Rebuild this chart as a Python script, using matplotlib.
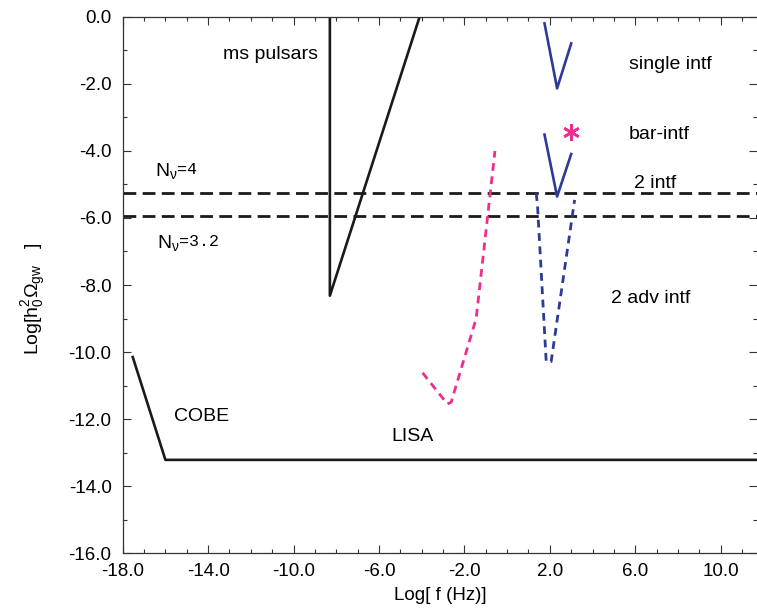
import matplotlib
matplotlib.use("Agg")
import matplotlib.pyplot as plt
from matplotlib.ticker import MultipleLocator, FormatStrFormatter

plt.rcParams['font.family'] = ['Liberation Sans', 'DejaVu Sans']
plt.rcParams['mathtext.fontset'] = 'custom'
plt.rcParams['mathtext.rm'] = 'Liberation Sans'
plt.rcParams['mathtext.it'] = 'Liberation Sans'
plt.rcParams['mathtext.bf'] = 'Liberation Sans'

# curves (x = log f, y = log h0^2 Omega_gw)
pulsar_x = [-8.3, -8.3, -4.1]
pulsar_y = [0.0, -8.32, 0.0]

cobe_lisa_x = [-17.53, -16.0, 12.0]
cobe_lisa_y = [-10.15, -13.22, -13.22]

nnu_levels = [-5.25, -5.95]

lisa_x = [-3.96, -2.8, -2.62, -1.45, -0.57]
lisa_y = [-10.62, -11.55, -11.5, -9.0, -4.0]

single_x = [1.75, 2.34, 3.0]
single_y = [-0.19, -2.13, -0.79]

bar_x = [1.75, 2.34, 3.0]
bar_y = [-3.51, -5.36, -4.09]

star_x = [3.01]
star_y = [-3.44]

adv_x = [1.36, 1.42, 1.83, 2.06, 3.16]
adv_y = [-5.26, -5.6, -10.29, -10.29, -5.46]

xticks = [-18, -14, -10, -6, -2, 2, 6, 10]

fig = plt.figure(figsize=(7.57, 6.11), dpi=100)
ax = fig.add_axes([0.1621, 0.0949, 0.8379, 0.8773])

black = '#1a1a1a'
pink = '#ec2f8e'
blue = '#2e3a94'

ax.plot(pulsar_x, pulsar_y, color=black, lw=1.9)
ax.plot(cobe_lisa_x, cobe_lisa_y, color=black, lw=1.9)
for lev in nnu_levels:
    ax.plot([-18, 12], [lev, lev], color=black, lw=2.0, dashes=[4.6, 2.3])

ax.plot(lisa_x, lisa_y, color=pink, lw=2.0, dashes=[2.8, 2.0])
ax.plot(adv_x, adv_y, color=blue, lw=2.0, dashes=[2.8, 2.0])
ax.plot(single_x, single_y, color=blue, lw=1.9)
ax.plot(bar_x, bar_y, color=blue, lw=1.9)
ax.plot(star_x, star_y, ls='none', marker=(6, 2, 0), ms=12, mew=1.9, color=pink)

# labels
fs = 14
ax.text(-11.08, -1.13, 'ms pulsars', fontsize=fs, ha='center', va='center')
ax.text(5.71, -1.43, 'single intf', fontsize=fs, ha='left', va='center')
ax.text(5.71, -3.52, 'bar-intf', fontsize=fs, ha='left', va='center')
ax.text(5.96, -4.96, '2 intf', fontsize=fs, ha='left', va='center')
ax.text(4.88, -8.39, '2 adv intf', fontsize=fs, ha='left', va='center')
ax.text(-14.29, -11.93, 'COBE', fontsize=fs, ha='center', va='center')
ax.text(-4.43, -12.53, 'LISA', fontsize=fs, ha='center', va='center')

ax.text(-16.48, -4.59, r'N$_{\nu}$', fontsize=fs, ha='left', va='center')
ax.text(-15.45, -4.55, '=4', fontsize=12, family='Liberation Mono', ha='left', va='center')
ax.text(-16.4, -6.74, r'N$_{\nu}$', fontsize=fs, ha='left', va='center')
ax.text(-15.37, -6.70, '=3.2', fontsize=12, family='Liberation Mono', ha='left', va='center')

ax.set_xlim(-18, 11.7)
ax.set_ylim(-16, 0)
ax.set_xticks(xticks)
ax.xaxis.set_minor_locator(MultipleLocator(1))
ax.yaxis.set_major_locator(MultipleLocator(2))
ax.yaxis.set_minor_locator(MultipleLocator(1))
ax.xaxis.set_major_formatter(FormatStrFormatter('%.1f'))
ax.yaxis.set_major_formatter(FormatStrFormatter('%.1f'))
ax.tick_params(which='both', direction='in', top=True, right=True, labelsize=13.5, width=0.8, color='#333333')
ax.tick_params(which='major', length=6)
ax.tick_params(axis='x', which='major', pad=7)
ax.tick_params(axis='y', which='major', pad=8)
ax.tick_params(which='minor', length=3)
ax.spines['right'].set_visible(False)
for s in ['left', 'bottom', 'top']:
    ax.spines[s].set_linewidth(0.9)
    ax.spines[s].set_color('#333333')

ax.set_xlabel('Log[ f (Hz)]', fontsize=13.5, labelpad=5)
ax.set_ylabel(r'Log[h$_0^{2}\Omega_{\rm gw}$   ]', fontsize=14)
ax.yaxis.set_label_coords(-0.117, 0.474)

fig.savefig('out.png', dpi=100)
